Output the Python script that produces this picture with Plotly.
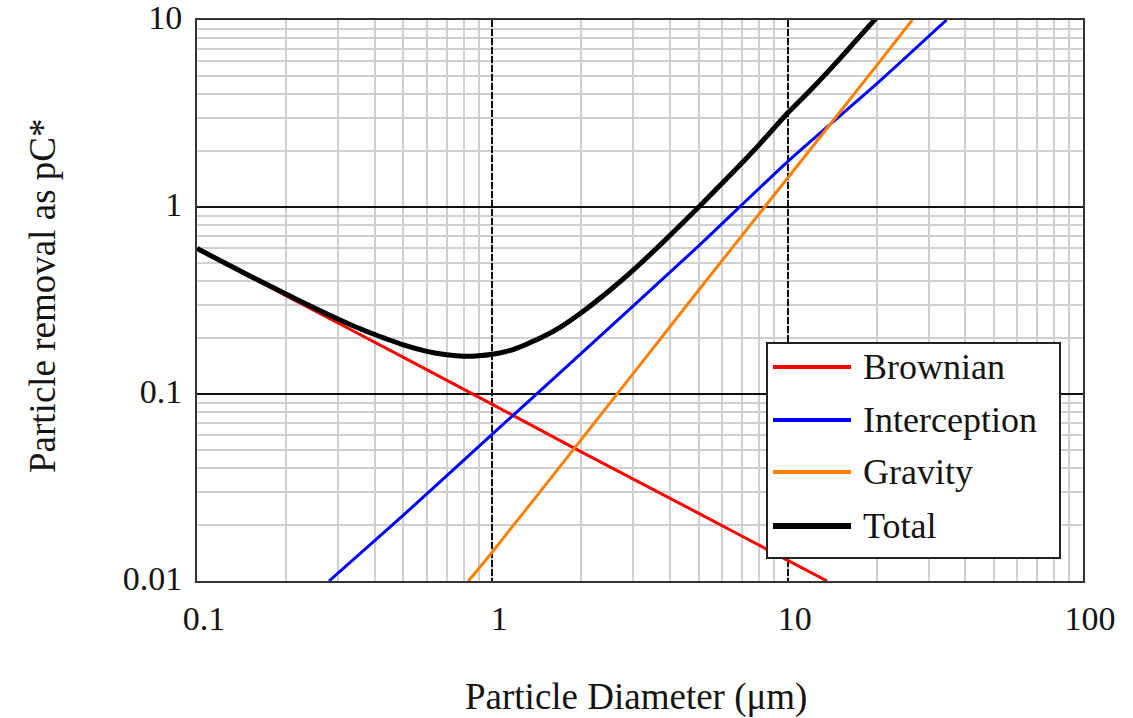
import plotly.graph_objects as go

# Particle removal (pC*) versus particle diameter, read per mechanism
brownian_d = [0.1, 0.2, 0.5, 1, 2, 5, 10, 13.6]
brownian_v = [0.60, 0.336, 0.157, 0.088, 0.049, 0.023, 0.0129, 0.010]

interception_d = [0.28, 0.5, 1, 2, 5, 10, 20, 34.5]
interception_v = [0.010, 0.0225, 0.061, 0.165, 0.62, 1.75, 4.55, 10.0]

gravity_d = [0.83, 1, 2, 5, 10, 20, 26.4]
gravity_v = [0.010, 0.0143, 0.057, 0.36, 1.43, 5.7, 10.0]

total_d = [0.1, 0.15, 0.2, 0.25, 0.3, 0.35, 0.4, 0.5, 0.6, 0.7, 0.8, 0.9,
           1, 1.1, 1.2, 1.3, 1.5, 1.7, 2, 2.5, 3, 3.5, 4, 5, 6, 7, 8, 10,
           12, 15, 17, 20]
total_v = [0.60, 0.43, 0.343, 0.288, 0.252, 0.226, 0.208, 0.183, 0.169, 0.162,
           0.159, 0.160, 0.163, 0.168, 0.175, 0.184, 0.204, 0.228, 0.272, 0.359,
           0.46, 0.576, 0.706, 1.0, 1.34, 1.72, 2.15, 3.18, 4.25, 6.2, 7.74, 10.3]

series_names = ["Brownian", "Interception", "Gravity", "Total"]
x_ticks = [0.1, 1, 10, 100]
x_tick_text = ["0.1", "1", "10", "100"]
y_ticks = [0.01, 0.1, 1, 10]
y_tick_text = ["0.01", "0.1", "1", "10"]

colors = ["#ff0000", "#0000ff", "#ff8000", "#000000"]
widths = [3, 3, 3, 5]

FONT = "Liberation Serif"
TEXT = "#141414"

W, H = 1133, 718
L, R, T, B = 197, 50, 20, 137
PW, PH = W - L - R, H - T - B

fig = go.Figure()
data = [(brownian_d, brownian_v), (interception_d, interception_v),
        (gravity_d, gravity_v), (total_d, total_v)]
for (xs, ys), name, c, w in zip(data, series_names, colors, widths):
    fig.add_trace(go.Scatter(x=xs, y=ys, mode="lines", name=name,
                             line=dict(color=c, width=w, shape="spline", smoothing=0.6),
                             showlegend=False))


def px_x(p):
    return (p - L) / PW


def px_y(p):
    return (H - B - p) / PH


# Boxed legend with long line samples
box = dict(x0=767, x1=1060, y0=343, y1=558)
fig.add_shape(type="rect", xref="paper", yref="paper",
              x0=px_x(box["x0"]), x1=px_x(box["x1"]),
              y0=px_y(box["y1"]), y1=px_y(box["y0"]),
              line=dict(color="#222222", width=2), fillcolor="white", layer="above")
row_y = [367, 420, 472, 526]
for name, c, w, ry in zip(series_names, colors, widths, row_y):
    fig.add_shape(type="line", xref="paper", yref="paper",
                  x0=px_x(773), x1=px_x(851), y0=px_y(ry), y1=px_y(ry),
                  line=dict(color=c, width=w + 1), layer="above")
    fig.add_annotation(text=name, xref="paper", yref="paper",
                       x=px_x(861), y=px_y(ry), xanchor="left", yanchor="middle",
                       showarrow=False, font=dict(family=FONT, size=36, color=TEXT))

# Axis titles placed as free text
fig.add_annotation(text="Particle Diameter (\u03bcm)", xref="paper", yref="paper",
                   x=px_x(636), y=px_y(697), xanchor="center", yanchor="middle",
                   showarrow=False, font=dict(family=FONT, size=37, color=TEXT))
fig.add_annotation(text="Particle removal as pC*", xref="paper", yref="paper",
                   x=px_x(42), y=px_y(296), xanchor="center", yanchor="middle",
                   textangle=-90, showarrow=False,
                   font=dict(family=FONT, size=37, color=TEXT))

fig.update_layout(
    width=W, height=H,
    margin=dict(l=L, r=R, t=T, b=B),
    paper_bgcolor="white", plot_bgcolor="white",
    font=dict(family=FONT, color=TEXT),
)
fig.update_xaxes(
    type="log", range=[-1, 2], automargin=False, ticklabeloverflow="allow",
    tickvals=x_ticks, ticktext=x_tick_text,
    tickfont=dict(family=FONT, size=34, color=TEXT),
    ticks="", ticklabelshift=7, ticklabelstandoff=6,
    showgrid=True, gridcolor="#111111", gridwidth=2, griddash="7px,2px",
    minor=dict(dtick="D1", showgrid=True, gridcolor="#d0d0d0", gridwidth=2,
               griddash="solid", ticks=""),
    showline=True, mirror=True, linecolor="#333333", linewidth=2,
    zeroline=False,
)
fig.update_yaxes(
    type="log", range=[-2, 1], automargin=False, ticklabeloverflow="allow",
    tickvals=y_ticks, ticktext=y_tick_text,
    tickfont=dict(family=FONT, size=34, color=TEXT),
    ticks="", ticklabelshift=-3, ticklabelstandoff=6,
    showgrid=True, gridcolor="#111111", gridwidth=2,
    minor=dict(dtick="D1", showgrid=True, gridcolor="#d0d0d0", gridwidth=2,
               griddash="solid", ticks=""),
    showline=True, mirror=True, linecolor="#333333", linewidth=2,
    zeroline=False,
)

fig.write_html("out.html")
